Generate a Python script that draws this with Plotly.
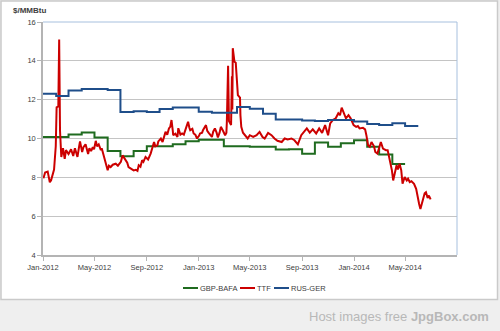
import pandas as pd
import plotly.graph_objects as go

# ---- data -------------------------------------------------------------
series_names = ["GBP-BAFA", "TTF", "RUS-GER"]
series_colors = ["#1f6b1f", "#cc0000", "#1f4e8a"]

# monthly border prices ($/MMBtu), first value is January 2012
gbp_bafa = [10.08, 10.08, 10.21, 10.31, 10.05, 9.36, 9.08, 9.36, 9.60, 9.60,
            9.70, 9.86, 9.93, 9.93, 9.60, 9.60, 9.58, 9.57, 9.43, 9.45,
            9.22, 9.79, 9.57, 9.76, 9.91, 9.57, 9.17, 8.69]
rus_ger = [12.31, 12.19, 12.47, 12.55, 12.55, 12.50, 11.36, 11.40, 11.36, 11.52,
           11.60, 11.60, 11.38, 11.33, 11.33, 11.62, 11.53, 11.27, 10.98, 10.98,
           10.93, 10.90, 10.95, 10.95, 10.88, 10.75, 10.70, 10.78, 10.65]
monthly_start = "2012-01-01"

# TTF spot price ($/MMBtu)
ttf_dates = [
    "2012-01-02", "2012-01-06", "2012-01-12", "2012-01-17", "2012-01-20", "2012-01-24",
    "2012-01-27", "2012-01-31", "2012-02-02", "2012-02-06", "2012-02-08", "2012-02-10",
    "2012-02-13", "2012-02-17", "2012-02-21", "2012-02-24", "2012-03-01", "2012-03-07",
    "2012-03-12", "2012-03-16", "2012-03-22", "2012-03-26", "2012-03-28", "2012-04-02",
    "2012-04-05", "2012-04-10", "2012-04-13", "2012-04-16", "2012-04-19", "2012-04-23",
    "2012-04-27", "2012-04-30", "2012-05-04", "2012-05-07", "2012-05-11", "2012-05-16",
    "2012-05-18", "2012-05-23", "2012-05-25", "2012-06-01", "2012-06-04", "2012-06-08",
    "2012-06-13", "2012-06-20", "2012-06-25", "2012-07-02", "2012-07-06", "2012-07-12",
    "2012-07-17", "2012-07-20", "2012-07-26", "2012-08-01", "2012-08-06", "2012-08-10",
    "2012-08-13", "2012-08-17", "2012-08-21", "2012-08-24", "2012-08-29", "2012-09-04",
    "2012-09-10", "2012-09-14", "2012-09-18", "2012-09-21", "2012-09-26", "2012-09-28",
    "2012-10-04", "2012-10-08", "2012-10-11", "2012-10-15", "2012-10-19", "2012-10-23",
    "2012-10-26", "2012-10-29", "2012-11-01", "2012-11-02", "2012-11-07", "2012-11-12",
    "2012-11-14", "2012-11-19", "2012-11-23", "2012-11-27", "2012-12-03", "2012-12-07",
    "2012-12-10", "2012-12-12", "2012-12-17", "2012-12-20", "2012-12-24", "2012-12-28",
    "2013-01-02", "2013-01-04", "2013-01-09", "2013-01-11", "2013-01-18", "2013-01-21",
    "2013-01-24", "2013-01-28", "2013-02-01", "2013-02-04", "2013-02-08", "2013-02-12",
    "2013-02-15", "2013-02-19", "2013-02-22", "2013-02-27", "2013-03-04", "2013-03-07",
    "2013-03-08", "2013-03-11", "2013-03-13", "2013-03-18", "2013-03-20", "2013-03-21",
    "2013-03-22", "2013-03-26", "2013-03-29", "2013-04-03", "2013-04-08", "2013-04-09",
    "2013-04-11", "2013-04-15", "2013-04-19", "2013-04-23", "2013-04-26", "2013-05-01",
    "2013-05-09", "2013-05-17", "2013-05-24", "2013-05-31", "2013-06-05", "2013-06-13",
    "2013-06-21", "2013-06-28", "2013-07-05", "2013-07-15", "2013-07-22", "2013-07-29",
    "2013-08-07", "2013-08-14", "2013-08-22", "2013-08-30", "2013-09-06", "2013-09-12",
    "2013-09-19", "2013-09-26", "2013-10-04", "2013-10-11", "2013-10-18", "2013-10-25",
    "2013-11-01", "2013-11-06", "2013-11-12", "2013-11-19", "2013-11-25", "2013-11-29",
    "2013-12-03", "2013-12-09", "2013-12-13", "2013-12-19", "2013-12-24", "2013-12-31",
    "2014-01-06", "2014-01-10", "2014-01-14", "2014-01-22", "2014-01-27", "2014-01-30",
    "2014-02-03", "2014-02-07", "2014-02-11", "2014-02-17", "2014-02-20", "2014-02-25",
    "2014-02-28", "2014-03-05", "2014-03-10", "2014-03-17", "2014-03-21", "2014-03-24",
    "2014-03-28", "2014-03-31", "2014-04-03", "2014-04-07", "2014-04-11", "2014-04-14",
    "2014-04-18", "2014-04-22", "2014-04-25", "2014-04-30", "2014-05-05", "2014-05-08",
    "2014-05-12", "2014-05-16", "2014-05-22", "2014-05-27", "2014-05-30", "2014-06-03",
    "2014-06-06", "2014-06-12", "2014-06-16", "2014-06-19", "2014-06-23", "2014-06-26",
    "2014-06-30",
]
ttf_values = [
    7.95, 8.25, 8.30, 7.75, 7.85, 8.20,
    8.40, 9.60, 11.60, 11.65, 15.10, 10.40,
    9.05, 9.50, 8.95, 9.40, 9.20, 9.45,
    9.10, 9.50, 9.05, 9.60, 9.85, 9.30,
    9.55, 9.70, 9.35, 9.20, 9.50, 9.35,
    9.55, 9.45, 9.88, 9.60, 9.70, 9.40,
    9.50, 9.05, 8.90, 8.36, 8.60, 8.53,
    8.65, 8.70, 8.60, 8.80, 9.13, 8.88,
    8.75, 8.53, 8.45, 8.36, 8.39, 8.33,
    8.62, 8.55, 8.88, 8.80, 9.05, 8.92,
    9.22, 9.50, 9.82, 9.60, 9.65, 9.85,
    10.00, 9.82, 10.10, 10.34, 10.20, 10.52,
    10.60, 10.95, 10.40, 10.17, 10.25, 10.08,
    10.53, 10.20, 10.26, 10.20, 10.60, 10.86,
    10.55, 10.43, 10.50, 10.26, 10.20, 10.00,
    10.15, 10.26, 10.30, 10.43, 10.69, 10.40,
    10.30, 10.20, 10.08, 10.35, 10.52, 10.30,
    10.05, 10.30, 10.60, 10.40, 10.17, 10.30,
    10.80, 13.75, 10.90, 10.70, 13.20, 11.50,
    14.65, 13.95, 13.90, 12.24, 12.10, 11.20,
    10.60, 10.30, 10.17, 10.08, 10.00, 10.17,
    10.08, 10.17, 10.34, 10.08, 10.00, 10.29,
    10.17, 10.00, 9.88, 9.82, 10.00, 9.95,
    10.00, 9.91, 9.70, 10.17, 10.34, 10.52,
    10.30, 10.47, 10.26, 10.52, 10.29, 10.69,
    10.17, 10.78, 10.95, 11.04, 11.30, 11.20,
    11.59, 11.20, 11.04, 11.20, 11.04, 10.69,
    10.60, 10.64, 10.52, 10.55, 10.47, 10.17,
    9.65, 9.57, 9.82, 9.60, 9.31, 9.22,
    9.48, 9.82, 9.48, 9.40, 9.40, 9.05,
    8.79, 8.36, 7.84, 8.27, 8.62, 8.40,
    8.70, 8.36, 7.67, 8.01, 7.84, 7.93,
    7.75, 7.80, 7.67, 7.41, 6.97, 6.63,
    6.37, 6.89, 7.18, 7.23, 6.94, 7.06,
    6.86,
]

y_ticks = [4, 6, 8, 10, 12, 14, 16]
x_tick_start = "2012-01-01"
x_range = ["2012-01-01", "2014-08-31"]


def monthly_steps(values):
    """Month-start dates plus the closing date of the last month, for an hv step line."""
    dates = pd.date_range(monthly_start, periods=len(values) + 1, freq="MS")
    return dates, list(values) + [values[-1]]


# ---- figure geometry (pixels) ------------------------------------------
W, H = 500, 331
L, R, T, B = 43, 43, 22, 76
PW, PH = W - L - R, H - T - B


def px(x):
    return (x - L) / PW


def py(y):
    return (H - B - y) / PH


FONT = "Liberation Sans, Arial, sans-serif"
TEXT = "#404040"

fig = go.Figure()

g_dates, g_vals = monthly_steps(gbp_bafa)
r_dates, r_vals = monthly_steps(rus_ger)

fig.add_trace(go.Scatter(x=g_dates, y=g_vals, name=series_names[0], mode="lines",
                         line=dict(color=series_colors[0], width=2, shape="hv")))
fig.add_trace(go.Scatter(x=pd.to_datetime(ttf_dates), y=ttf_values, name=series_names[1],
                         mode="lines", line=dict(color=series_colors[1], width=2)))
fig.add_trace(go.Scatter(x=r_dates, y=r_vals, name=series_names[2], mode="lines",
                         line=dict(color=series_colors[2], width=2, shape="hv")))

shapes = [
    # chart frame
    dict(type="rect", xref="paper", yref="paper", layer="below",
         x0=px(1), x1=px(497.5), y0=py(299.5), y1=py(1),
         fillcolor="white", line=dict(color="#cacaca", width=1.5)),
    # plot-area border (top and right)
    dict(type="line", xref="paper", yref="paper", layer="above",
         x0=0, x1=1, y0=1, y1=1, line=dict(color="#a7c0de", width=1)),
    dict(type="line", xref="paper", yref="paper", layer="above",
         x0=1, x1=1, y0=0, y1=1, line=dict(color="#a7c0de", width=1)),
]

annotations = [
    dict(text="<b>$/MMBtu</b>", xref="paper", yref="paper", x=px(11), y=py(11),
         xanchor="left", yanchor="middle", showarrow=False,
         font=dict(family=FONT, size=8, color=TEXT)),
    dict(text="Host images free <b>JpgBox.com</b>", xref="paper", yref="paper",
         x=px(491), y=py(316), xanchor="right", yanchor="middle", showarrow=False,
         font=dict(family=FONT, size=13, color="#b8b8b8")),
]

# legend row under the axis
legend_y = 288
legend_x = [183, 240, 274]
sample_len = 15
for name, color, x0 in zip(series_names, series_colors, legend_x):
    shapes.append(dict(type="line", xref="paper", yref="paper",
                       x0=px(x0), x1=px(x0 + sample_len), y0=py(legend_y), y1=py(legend_y),
                       line=dict(color=color, width=2)))
    annotations.append(dict(text=name, xref="paper", yref="paper",
                            x=px(x0 + sample_len), y=py(legend_y), xanchor="left",
                            yanchor="middle", showarrow=False,
                            font=dict(family=FONT, size=7.5, color=TEXT)))

fig.update_layout(
    width=W, height=H,
    margin=dict(l=L, r=R, t=T, b=B, pad=0),
    paper_bgcolor="#efefef",
    plot_bgcolor="white",
    showlegend=False,
    shapes=shapes,
    annotations=annotations,
    font=dict(family=FONT, size=7.5, color=TEXT),
)

fig.update_xaxes(
    type="date", range=x_range, tick0=x_tick_start, dtick="M4", tickformat="%b-%Y",
    showgrid=False, showline=True, linecolor="#b4b4b4", linewidth=1.5,
    ticks="outside", ticklen=4, tickcolor="#b4b4b4", tickwidth=1,
    tickfont=dict(family=FONT, size=7.5, color=TEXT), zeroline=False,
)
fig.update_yaxes(
    range=[4, 16], tickvals=y_ticks, showgrid=True, gridcolor="#c4c4c4", gridwidth=1,
    showline=True, linecolor="#b4b4b4", linewidth=1.5,
    ticks="outside", ticklen=4, tickcolor="#b4b4b4", tickwidth=1,
    tickfont=dict(family=FONT, size=7.5, color=TEXT), zeroline=False,
)

fig.write_html("out.html")
